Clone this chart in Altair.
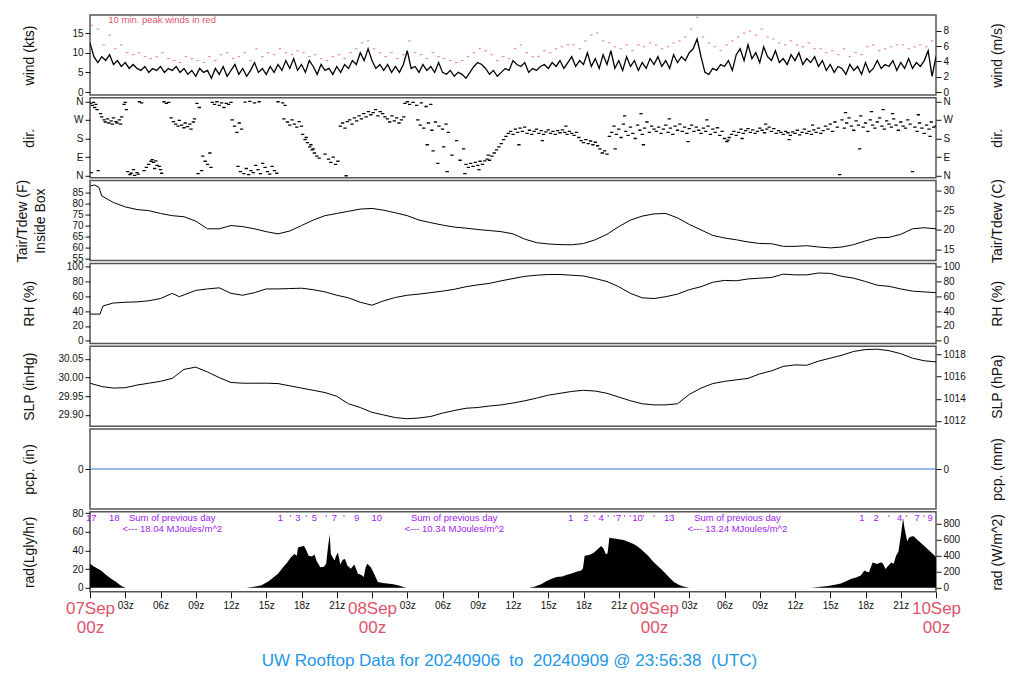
import altair as alt
import pandas as pd

FONT = "Liberation Sans"
RED = "#DF536B"
BLUE = "#2297E6"
PURPLE = "#A020F0"
PCP_BLUE = "#2a7fd4"
INK = "#111111"

W, H = 846, 80
X_DOMAIN = [0, 72]

# ---------------- data (hours after 07Sep 00z) ----------------
WIND_STEP_H = 1.0 / 3.0          # wind sampled every 20 min
wind_kts = [
    12.5, 9, 7.5, 9, 8, 9.5, 7, 8, 6.5, 7.5, 6, 7, 6, 5.5, 6.5, 5, 6, 5.5,
    6.5, 5, 6, 5.5, 6.5, 5, 6, 4.5, 5.5, 4, 6, 5, 5.5, 3.5, 6, 4.5, 6.5, 4,
    5.5, 7, 4.5, 6, 4, 5.5, 7.5, 5, 6, 4.5, 6.5, 5, 7, 5.5, 8, 6, 8.5, 5.5,
    7, 5, 8, 6.5, 4.5, 7, 5.5, 6, 4.5, 6.5, 5, 7, 6, 8, 7, 10, 8, 11,
    8, 6, 7, 5.5, 7, 5, 6.5, 5, 7, 10.5, 6, 6.5, 5, 7, 5.5, 6.5, 5, 7.5,
    5, 4.5, 5.5, 4, 5, 4.5, 3.5, 5, 6.5, 7.5, 7, 6, 4.5, 5.5, 4, 5, 6, 5.5,
    8, 7, 6.5, 7.5, 5, 6, 5.5, 6.5, 7, 6, 7.5, 6.5, 8, 6, 7.5, 9, 6.5, 8,
    7, 10, 6.5, 8.5, 6, 9.5, 7, 10.5, 6, 8, 5.5, 9, 6.5, 8, 5.5, 7.5, 6, 8.5,
    7, 9, 6.5, 8, 6, 9.5, 7.5, 9, 8, 10, 11, 13.5, 9, 5, 4.5, 6, 5.5, 7,
    6.5, 8, 5.5, 9.5, 11, 8, 12, 8.5, 10, 7.5, 11.5, 9, 8, 10.5, 7.5, 8.5, 7, 9.5,
    8, 10, 7, 8.5, 7.5, 9, 6.5, 8, 5.5, 7, 5, 6.5, 6, 4.5, 7, 5.5, 6.5, 4.5,
    7.5, 5, 6, 8, 6, 7, 6.5, 8, 5.5, 7.5, 6, 8.5, 6, 7.5, 6.5, 8, 10.5, 4,
    9,
]
PEAK_OFFSETS = [0.17, 0.67]      # two 10-min peaks plotted per hour
peak_kts = [
    17, 16, 12, 14.5, 11, 12, 10, 9.5, 10, 9, 8.5, 9, 10, 8.5, 8, 7.5,
    9, 8.5, 8, 7.5, 9, 8, 9.5, 10, 8.5, 9, 10, 8, 11, 9, 10, 9.5,
    11, 10, 9.5, 10.5, 10, 9, 9.5, 8.5, 8, 9, 9.5, 8.5, 10, 11, 12.5, 13,
    11, 10, 9, 10, 8.5, 9.5, 13, 10, 9.5, 8.5, 10, 9, 8.5, 8, 7.5, 8,
    9, 10, 11, 10.5, 9.5, 8, 9, 8.5, 11, 12, 10, 9, 9, 10.5, 10, 11,
    11.5, 12, 12, 11, 13, 14.5, 15, 13, 12.5, 11.5, 11, 12, 10.5, 12, 11.5, 12.5,
    12, 11, 11.5, 12.5, 13, 14, 16, 19, 14, 12.5, 11.5, 10.5, 12, 13, 14, 15,
    15.5, 14.5, 16, 14, 13.5, 12.5, 12, 13, 12, 11.5, 12.5, 11, 11, 10, 10.5, 9.5,
    11, 9, 10, 9.5, 11.5, 12, 10.5, 11, 11.5, 12, 12, 11, 11.5, 12, 11.5, 13,
]
peak_note = [(1.55, 18.4, "10 min. peak winds in red")]

# wind direction dashes: (hour, degrees)
dir_obs = [
    (0.05, 350), (0.2, 340), (0.3, 355), (0.4, 330), (0.5, 345), (0.6, 320), (0.1, 15), (0.7, 25),
    (0.9, 300), (1.0, 285), (1.2, 270), (1.3, 260), (1.5, 275), (1.6, 255), (1.8, 265), (1.9, 250),
    (2.0, 280), (2.2, 262), (2.3, 255), (2.5, 270), (2.6, 250), (2.7, 285), (2.9, 345), (3.1, 320),
    (3.0, 355), (3.2, 20), (3.4, 5), (3.5, 12), (3.7, 30), (3.8, 2), (4.0, 15), (4.1, 8),
    (4.2, 358), (4.4, 352), (4.6, 25), (4.8, 40), (5.0, 55), (5.2, 70), (5.3, 78), (5.4, 65),
    (5.6, 72), (5.7, 50), (5.9, 45), (6.0, 30), (6.1, 12), (5.5, 35), (6.3, 358), (6.5, 350),
    (6.7, 355), (6.9, 280), (7.1, 262), (7.3, 250), (7.5, 240), (7.6, 268), (7.8, 245), (8.0, 232),
    (8.1, 255), (8.3, 238), (8.5, 250), (8.6, 225), (8.8, 260), (8.9, 275), (9.1, 350), (9.3, 330),
    (9.2, 10), (9.5, 25), (9.6, 95), (9.8, 70), (10.0, 55), (10.2, 110), (10.3, 40), (10.4, 355),
    (10.6, 345), (10.8, 358), (11.0, 340), (11.2, 352), (11.4, 330), (11.6, 350), (11.8, 345), (12.0, 355),
    (12.1, 270), (12.3, 240), (12.5, 210), (12.7, 255), (12.9, 225), (12.6, 45), (12.8, 20), (13.1, 10),
    (13.3, 35), (13.5, 5), (13.7, 25), (13.9, 15), (14.1, 50), (14.3, 30), (14.5, 10), (14.7, 60),
    (14.9, 40), (15.1, 20), (15.3, 8), (15.5, 45), (15.7, 25), (15.9, 12), (13.2, 356), (13.6, 360),
    (14.0, 352), (14.4, 358), (16.0, 358), (16.4, 352), (16.6, 340), (16.5, 275), (16.8, 260), (17.0, 245),
    (17.2, 270), (17.4, 250), (17.6, 235), (17.8, 262), (18.0, 240), (18.1, 200), (18.3, 175), (18.5, 160),
    (18.7, 140), (18.9, 125), (19.1, 110), (19.3, 95), (19.5, 85), (18.4, 185), (18.8, 150), (19.0, 130),
    (20.0, 105), (20.3, 80), (20.5, 65), (20.7, 90), (20.9, 55), (21.1, 70), (21.3, 240), (21.5, 255),
    (21.7, 230), (21.8, 0), (21.9, 262), (22.1, 270), (22.3, 250), (22.5, 280), (22.7, 265), (22.9, 290),
    (23.1, 275), (23.3, 300), (23.5, 285), (23.7, 310), (23.9, 295), (24.1, 305), (24.3, 320), (24.5, 290),
    (24.7, 310), (24.9, 300), (25.1, 285), (25.3, 275), (25.5, 260), (25.7, 290), (25.9, 265), (26.1, 280),
    (26.3, 255), (26.5, 270), (26.7, 285), (26.8, 350), (27.0, 358), (27.2, 345), (27.5, 355), (27.8, 340),
    (28.2, 352), (28.6, 335), (29.0, 345), (27.9, 270), (28.1, 245), (28.4, 230), (28.8, 255), (29.1, 220),
    (29.4, 260), (29.7, 240), (30.0, 225), (30.3, 250), (30.5, 210), (28.7, 150), (29.2, 120), (29.6, 60),
    (30.1, 140), (30.4, 20), (30.8, 100), (31.2, 170), (31.5, 75), (31.8, 130), (31.9, 10), (32.0, 55),
    (32.2, 40), (32.4, 60), (32.6, 45), (32.8, 65), (33.0, 50), (33.2, 70), (33.4, 55), (33.6, 72),
    (33.8, 80), (34.0, 75), (34.2, 95), (34.4, 110), (34.6, 125), (34.8, 140), (35.0, 155), (35.2, 175),
    (35.4, 190), (33.1, 30), (33.9, 100), (35.6, 205), (35.8, 215), (36.0, 200), (36.2, 225), (36.4, 210),
    (36.6, 230), (36.8, 215), (37.0, 235), (37.2, 205), (37.4, 220), (37.6, 200), (37.8, 215), (38.0, 225),
    (38.2, 205), (38.4, 218), (38.6, 200), (38.8, 212), (39.0, 222), (39.2, 205), (39.4, 215), (39.6, 200),
    (39.8, 218), (40.0, 208), (40.2, 222), (40.4, 210), (40.6, 200), (40.8, 215), (41.0, 205), (41.2, 195),
    (41.4, 210), (36.5, 150), (38.5, 170), (40.5, 240), (41.6, 185), (41.8, 170), (42.0, 160), (42.2, 175),
    (42.4, 155), (42.6, 168), (42.8, 150), (43.0, 162), (43.2, 145), (43.4, 130), (43.6, 110), (43.8, 120),
    (44.0, 105), (44.2, 190), (44.4, 210), (44.6, 240), (44.8, 200), (45.0, 225), (45.2, 185), (45.4, 250),
    (45.6, 215), (45.8, 195), (46.0, 235), (46.2, 205), (46.4, 180), (46.6, 245), (46.8, 220), (47.0, 200),
    (47.2, 230), (47.4, 260), (47.6, 210), (47.8, 240), (48.0, 225), (45.5, 290), (46.9, 300), (44.7, 130),
    (47.1, 150), (48.2, 215), (48.4, 235), (48.6, 205), (48.8, 225), (49.0, 245), (49.2, 210), (49.4, 230),
    (49.6, 200), (49.8, 240), (50.0, 220), (50.2, 250), (50.4, 215), (50.6, 235), (50.8, 205), (51.0, 228),
    (51.2, 245), (51.4, 215), (51.6, 235), (51.8, 220), (52.0, 205), (52.2, 230), (52.4, 215), (52.6, 240),
    (52.8, 200), (53.0, 225), (53.2, 210), (53.4, 232), (53.6, 195), (53.8, 215), (49.3, 275), (50.9, 165),
    (52.5, 270), (54.0, 180), (54.2, 165), (54.3, 172), (54.4, 185), (54.6, 200), (54.8, 215), (55.0, 195),
    (55.2, 210), (55.4, 225), (55.6, 205), (55.8, 218), (56.0, 228), (56.2, 210), (56.4, 222), (56.6, 205),
    (56.8, 215), (57.0, 230), (57.2, 220), (57.4, 208), (57.6, 225), (57.8, 235), (58.0, 215), (58.2, 228),
    (58.4, 205), (58.6, 218), (58.8, 210), (59.0, 200), (59.2, 215), (59.4, 208), (59.6, 195), (59.8, 212),
    (60.0, 205), (60.2, 220), (60.4, 198), (60.6, 210), (60.8, 225), (61.0, 205), (61.2, 215), (61.4, 200),
    (61.6, 222), (61.8, 210), (62.0, 230), (62.2, 205), (62.4, 218), (62.6, 240), (62.8, 225), (63.0, 250),
    (55.5, 180), (57.5, 250), (59.5, 175), (61.5, 245), (63.2, 215), (63.4, 260), (63.6, 235), (63.8, 5),
    (64.0, 270), (64.2, 230), (64.4, 255), (64.6, 280), (64.8, 240), (65.0, 220), (65.2, 265), (65.4, 245),
    (65.5, 130), (65.6, 290), (65.8, 235), (66.0, 255), (66.2, 215), (66.4, 270), (66.6, 245), (66.8, 230),
    (67.0, 260), (67.2, 280), (67.4, 240), (67.6, 225), (67.8, 265), (68.0, 250), (68.2, 235), (68.4, 275),
    (68.6, 245), (68.8, 220), (69.0, 260), (69.2, 240), (69.4, 230), (69.6, 270), (69.8, 250), (70.0, 20),
    (70.2, 235), (70.4, 215), (70.6, 255), (70.8, 230), (71.0, 205), (71.2, 245), (71.4, 225), (71.6, 260),
    (71.8, 235), (72.0, 240), (64.3, 305), (66.5, 310), (68.3, 300), (70.5, 295), (71.5, 190), (67.5, 320),
]

# inside-box air temperature (F): (hour, value)
temp_obs = [
    (0, 88), (0.4, 88.5), (0.75, 87.5), (1, 83.5), (2, 80.5), (3, 78.5), (4, 77.3), (5, 76.8),
    (6, 75.5), (7, 74.5), (8, 74), (9, 72), (10, 68.5), (11, 68.5), (12, 70), (13, 69.5),
    (14, 68.5), (15, 67.2), (16, 66.2), (17, 67.5), (18, 70), (19, 72.5), (20, 74.5), (21, 75.5),
    (22, 76.5), (23, 77.5), (24, 77.8), (25, 77), (26, 75.8), (27, 74.5), (28, 72.5), (29, 71.3),
    (30, 70.2), (31, 69.3), (32, 68.8), (33, 68.2), (34, 67.7), (35, 67.2), (36, 66.2), (37, 63.8),
    (38, 62.2), (39, 61.6), (40, 61.3), (41, 61.2), (42, 61.8), (43, 63.5), (44, 66), (45, 69.5),
    (46, 72.5), (47, 74.3), (48, 75.3), (49, 75.5), (50, 73.5), (51, 70.5), (52, 68), (53, 65.5),
    (54, 64.3), (55, 63.5), (56, 62.5), (57, 61.8), (58, 61.7), (59, 60.5), (60, 60.5), (61, 60.8),
    (62, 60.2), (63, 59.8), (64, 60.2), (65, 61.3), (66, 63), (67, 64.4), (68, 64.6), (69, 66),
    (70, 68.5), (71, 69), (72, 68.5),
]

# relative humidity (%)
rh_obs = [
    (0, 36), (0.85, 36), (1.1, 47), (2, 51), (3, 52), (4, 52.5), (5, 54), (6, 57), (7, 64),
    (7.6, 59.5), (8, 62), (9, 68), (10, 70), (11, 71.5), (12, 64), (13, 61.5), (14, 65), (15, 70),
    (16, 70), (17, 70.5), (18, 71), (19, 69), (20, 66), (21, 61.5), (22, 58), (23, 52), (24, 48),
    (25, 54), (26, 58.5), (27, 61.5), (28, 63), (29, 65), (30, 67), (31, 69.5), (32, 73), (33, 75.5),
    (34, 77.5), (35, 81), (36, 84), (37, 87), (38, 88.5), (39, 89.5), (40, 89.5), (41, 88.5), (42, 87.5),
    (43, 84), (44, 80), (45, 73), (46, 64), (47, 58), (48, 57), (49, 59.5), (50, 63), (51, 69),
    (52, 73), (53, 79), (54, 81.5), (55, 81), (56, 83.5), (57, 84.5), (58, 85.5), (59, 90), (60, 89),
    (61, 89), (62, 91.5), (63, 91), (64, 87), (65, 84.5), (66, 80), (67, 75), (68, 73.5), (69, 70),
    (70, 67), (71, 66), (72, 65),
]

# sea-level pressure (inHg), hourly from 0 to 72
slp_inhg = [
    29.985, 29.976, 29.972, 29.973, 29.980, 29.985, 29.990, 29.998, 30.022, 30.028,
    30.015, 30.000, 29.987, 29.985, 29.985, 29.985, 29.984, 29.978, 29.972, 29.966,
    29.960, 29.950, 29.930, 29.920, 29.907, 29.900, 29.893, 29.890, 29.892, 29.896,
    29.905, 29.912, 29.918, 29.920, 29.924, 29.927, 29.932, 29.938, 29.945, 29.953,
    29.958, 29.963, 29.966, 29.964, 29.958, 29.948, 29.938, 29.930, 29.927, 29.927,
    29.930, 29.955, 29.972, 29.984, 29.990, 29.994, 29.998, 30.010, 30.018, 30.030,
    30.034, 30.033, 30.044, 30.052, 30.060, 30.070, 30.075, 30.076, 30.072, 30.064,
    30.052, 30.045, 30.042,
]

# precipitation (in)
pcp_obs = [(0, 0.0), (72, 0.0)]

# solar radiation (W/m^2)
rad_obs = [
    (0, 300), (0.3, 270), (0.6, 245), (0.94, 217), (1.3, 170), (1.8, 115), (2.2, 75), (2.5, 41),
    (2.8, 15), (3.06, 0), (13.3, 0), (13.8, 10), (14.2, 20), (14.6, 33), (15.2, 82), (15.6, 130),
    (16.0, 176), (16.4, 250), (16.8, 319), (17.1, 380), (17.4, 420), (17.6, 400), (17.7, 503), (18.0, 515),
    (18.2, 523), (18.4, 470), (18.6, 401), (18.9, 390), (19.1, 415), (19.3, 330), (19.6, 258), (19.9, 262),
    (20.1, 300), (20.25, 503), (20.4, 667), (20.5, 420), (20.8, 340), (20.95, 400), (21.1, 441), (21.3, 290),
    (21.5, 350), (21.7, 360), (21.9, 278), (22.2, 237), (22.5, 290), (22.8, 176), (23.1, 160), (23.3, 135),
    (23.45, 250), (23.6, 299), (23.9, 258), (24.1, 200), (24.5, 74), (24.9, 62), (25.3, 53), (25.8, 45),
    (26.2, 33), (26.6, 15), (26.9, 0), (37.4, 0), (37.8, 15), (38.4, 45), (38.9, 90), (39.3, 114),
    (39.7, 134), (40.2, 140), (40.6, 163), (41.0, 180), (41.4, 200), (41.8, 215), (41.95, 240), (42.1, 398),
    (42.5, 410), (42.9, 440), (43.2, 480), (43.5, 520), (43.7, 490), (43.9, 419), (44.05, 430), (44.2, 622),
    (44.6, 615), (45.0, 605), (45.4, 595), (45.8, 575), (46.3, 541), (46.6, 515), (46.9, 480), (47.2, 440),
    (47.5, 398), (47.9, 330), (48.3, 275), (48.6, 236), (49.0, 175), (49.3, 130), (49.7, 73), (50.1, 40),
    (50.5, 18), (51.0, 0), (61.4, 0), (62.0, 12), (62.8, 24), (63.4, 38), (63.9, 53), (64.4, 85),
    (64.8, 114), (65.2, 130), (65.6, 154), (65.9, 215), (66.1, 200), (66.3, 195), (66.6, 317), (67.0, 297),
    (67.3, 318), (67.5, 300), (67.7, 236), (67.9, 270), (68.2, 317), (68.4, 300), (68.6, 398), (68.8, 450),
    (69.0, 642), (69.2, 866), (69.3, 760), (69.4, 683), (69.55, 580), (69.7, 622), (69.9, 640), (70.1, 642),
    (70.4, 600), (70.7, 561), (71.0, 520), (71.3, 480), (71.6, 440), (71.9, 398), (72.0, 380),
]

# purple annotations in the radiation panel: (hour, W/m^2 level, text)
rad_notes = [
    (0.1, 872, "17"), (2.07, 872, "18"), (7.0, 872, "Sum of previous day"),
    (7.0, 737, "<--- 18.04 MJoules/m^2"),
    (16.2, 872, "1"), (17.05, 872, "'"), (17.7, 872, "3"), (18.4, 872, "'"), (19.1, 872, "5"),
    (20.1, 872, "'"), (20.8, 872, "7"), (21.6, 872, "'"), (22.7, 872, "9"), (24.4, 872, "10"),
    (31.0, 872, "Sum of previous day"), (31.0, 737, "<--- 10.34 MJoules/m^2"),
    (40.9, 872, "1"), (42.2, 872, "2"), (42.9, 872, "'"), (43.5, 872, "4"), (44.1, 872, "'"),
    (44.6, 872, "'"), (45.0, 872, "7"), (45.5, 872, "'"), (46.0, 872, "'"), (46.6, 872, "10"),
    (47.1, 872, "'"), (48.0, 872, "'"), (49.3, 872, "13"),
    (55.1, 872, "Sum of previous day"), (55.1, 737, "<--- 13.24 MJoules/m^2"),
    (65.7, 872, "1"), (66.9, 872, "2"), (68.0, 872, "'"), (68.9, 872, "4"), (69.5, 872, "'"),
    (70.4, 872, "7"), (71.0, 872, "'"), (71.5, 872, "9"),
]

day_labels = ["07Sep", "08Sep", "09Sep", "10Sep"]
x_tick_hours = list(range(0, 73, 3))
title_text = "UW Rooftop Data for 20240906\u00a0 to\u00a0 20240909 @ 23:56:38\u00a0 (UTC)"

# ---------------- axis domains / unit conversions ----------------
KTS_TO_MS = 0.514444
INHG_TO_HPA = 33.8639
IN_TO_MM = 25.4
LGLY_TO_WM2 = 11.622

WIND_DOM = [-0.76, 19.6]
DIR_DOM = [-10, 377]
TEMP_DOM = [54.0, 90.5]
RH_DOM = [-3.6, 104.5]
SLP_DOM = [29.870, 30.084]
PCP_DOM = [-0.1, 0.1]
RAD_LGLY_DOM = [-4.2, 81.4]


def conv(dom, f):
    return [f(v) for v in dom]


def yscale(d):
    return alt.Scale(domain=d, nice=False, zero=False)


def y_axis(orient, title, values, tx, **kw):
    return alt.Axis(
        orient=orient, values=values, title=title, titleX=tx, titleAngle=270,
        titleBaseline="middle", titleAlign="center", titleFont=FONT, titleFontSize=14,
        titleFontWeight="normal", titleColor=INK, labelFont=FONT, labelFontSize=10,
        labelColor=INK, tickSize=5, tickColor=INK, tickWidth=1, domain=False,
        grid=False, labelPadding=2, **kw)


def left_axis(title, values, tx=-61, **kw):
    return y_axis("left", title, values, tx, **kw)


def right_axis(title, values, tx=61, **kw):
    return y_axis("right", title, values, tx, **kw)


day_expr = "[" + ",".join("'%s'" % d for d in day_labels) + "]"
x_label_expr = (
    "datum.value % 24 == 0 ? [" + day_expr + "[datum.value / 24], '00z'] : "
    "((datum.value % 24) < 10 ? '0' : '') + (datum.value % 24) + 'z'"
)
bottom_axis = alt.Axis(
    values=x_tick_hours, labelExpr=x_label_expr, title=None, grid=False, domain=False,
    tickSize=6, tickColor=INK, tickWidth=1, labelFont=FONT,
    labelFontSize={"condition": {"test": "datum.value % 24 == 0", "value": 17}, "value": 10},
    labelColor={"condition": {"test": "datum.value % 24 == 0", "value": RED}, "value": INK},
    labelBaseline="top", labelPadding=3, labelLineHeight=19, labelOverlap=False,
    labelFlush=False, labelBound=False,
)


def xenc(axis=None):
    return alt.X("h:Q", scale=alt.Scale(domain=X_DOMAIN, nice=False, zero=False), axis=axis)


def dummy(dom, axis, xaxis=None):
    df = pd.DataFrame({"h": X_DOMAIN, "v": dom})
    return alt.Chart(df).mark_point(opacity=0).encode(
        x=xenc(xaxis), y=alt.Y("v:Q", scale=yscale(dom), axis=axis))


def panel(main, right):
    return alt.layer(main, right).resolve_scale(y="independent").properties(width=W, height=H)


# ---- wind ----
wind_df = pd.DataFrame({"h": [i * WIND_STEP_H for i in range(len(wind_kts))], "v": wind_kts})
peak_df = pd.DataFrame({"h": [hr + o for hr in range(72) for o in PEAK_OFFSETS], "v": peak_kts})
wnote_df = pd.DataFrame(peak_note, columns=["h", "v", "t"])
ax_w = left_axis("wind (kts)", [0, 5, 10, 15])
yw = alt.Y("v:Q", scale=yscale(WIND_DOM), axis=ax_w)
wind_main = alt.layer(
    alt.Chart(wind_df).mark_line(color="black", strokeWidth=1.3, clip=True).encode(x=xenc(), y=yw),
    alt.Chart(peak_df).mark_point(shape="M-1,0L1,0", size=6, filled=False, strokeWidth=0.9,
                                  color="#E46A82", opacity=1, clip=True).encode(x=xenc(), y=yw),
    alt.Chart(wnote_df).mark_text(align="left", baseline="middle", font=FONT, fontSize=9.5,
                                  color=RED).encode(x=xenc(), y=yw, text="t:N"),
)
p_wind = panel(wind_main, dummy(conv(WIND_DOM, lambda v: v * KTS_TO_MS),
                                right_axis("wind (m/s)", [0, 2, 4, 6, 8])))

# ---- direction ----
dir_df = pd.DataFrame(dir_obs, columns=["h", "v"])
dir_expr = "datum.value == 90 ? 'E' : datum.value == 180 ? 'S' : datum.value == 270 ? 'W' : 'N'"
dir_main = alt.Chart(dir_df).mark_point(shape="M-1,0L1,0", size=11, filled=False, strokeWidth=1.3,
                                        color="black", opacity=1, clip=True).encode(
    x=xenc(), y=alt.Y("v:Q", scale=yscale(DIR_DOM),
                      axis=left_axis("dir.", [0, 90, 180, 270, 360], labelExpr=dir_expr)))
p_dir = panel(dir_main, dummy(DIR_DOM, right_axis("dir.", [0, 90, 180, 270, 360], labelExpr=dir_expr)))

# ---- temperature ----
temp_df = pd.DataFrame(temp_obs, columns=["h", "v"])
temp_main = alt.Chart(temp_df).mark_line(color="black", strokeWidth=1, clip=True).encode(
    x=xenc(), y=alt.Y("v:Q", scale=yscale(TEMP_DOM),
                      axis=left_axis(["Tair/Tdew (F)", "Inside Box"], [55, 60, 65, 70, 75, 80, 85],
                                     tx=-68, titleLineHeight=18)))
p_temp = panel(temp_main, dummy(conv(TEMP_DOM, lambda f: (f - 32) * 5 / 9),
                                right_axis("Tair/Tdew (C)", [15, 20, 25, 30])))

# ---- RH ----
rh_df = pd.DataFrame(rh_obs, columns=["h", "v"])
rh_main = alt.Chart(rh_df).mark_line(color="black", strokeWidth=1, clip=True).encode(
    x=xenc(), y=alt.Y("v:Q", scale=yscale(RH_DOM), axis=left_axis("RH (%)", [0, 20, 40, 60, 80, 100])))
p_rh = panel(rh_main, dummy(RH_DOM, right_axis("RH (%)", [0, 20, 40, 60, 80, 100])))

# ---- SLP ----
slp_df = pd.DataFrame({"h": list(range(len(slp_inhg))), "v": slp_inhg})
slp_main = alt.Chart(slp_df).mark_line(color="black", strokeWidth=1, clip=True).encode(
    x=xenc(), y=alt.Y("v:Q", scale=yscale(SLP_DOM),
                      axis=left_axis("SLP (inHg)", [29.90, 29.95, 30.00, 30.05], format=".2f")))
p_slp = panel(slp_main, dummy(conv(SLP_DOM, lambda v: v * INHG_TO_HPA),
                              right_axis("SLP (hPa)", [1012, 1014, 1016, 1018], format="d")))

# ---- precipitation ----
pcp_df = pd.DataFrame(pcp_obs, columns=["h", "v"])
pcp_main = alt.Chart(pcp_df).mark_line(color=PCP_BLUE, strokeWidth=1.2).encode(
    x=xenc(), y=alt.Y("v:Q", scale=yscale(PCP_DOM), axis=left_axis("pcp. (in)", [0], format="d")))
p_pcp = panel(pcp_main, dummy(conv(PCP_DOM, lambda v: v * IN_TO_MM),
                              right_axis("pcp. (mm)", [0], format="d")))

# ---- radiation ----
RAD_W_DOM = conv(RAD_LGLY_DOM, lambda v: v * LGLY_TO_WM2)
rad_df = pd.DataFrame(rad_obs, columns=["h", "v"])
notes_df = pd.DataFrame(rad_notes, columns=["h", "v", "t"])
ax_rw = right_axis("rad (W/m^2)", [0, 200, 400, 600, 800])
yr = alt.Y("v:Q", scale=yscale(RAD_W_DOM), axis=ax_rw)
rad_main = alt.layer(
    alt.Chart(rad_df).mark_area(color="black", clip=True, interpolate="linear").encode(
        x=xenc(bottom_axis), y=yr),
    alt.Chart(notes_df).mark_text(align="center", baseline="middle", font=FONT, fontSize=9.5,
                                  color=PURPLE).encode(x=xenc(bottom_axis), y=yr, text="t:N"),
)
p_rad = alt.layer(
    rad_main,
    dummy(RAD_LGLY_DOM, left_axis("rad(Lgly/hr)", [0, 20, 40, 60, 80]), xaxis=bottom_axis),
).resolve_scale(y="independent").properties(width=W, height=H)

chart = alt.vconcat(
    p_wind, p_dir, p_temp, p_rh, p_slp, p_pcp, p_rad, spacing=2.8, bounds="flush"
).resolve_scale(x="independent", y="independent").properties(
    title=alt.TitleParams(text=title_text, orient="bottom", anchor="middle", font=FONT,
                          fontSize=17, fontWeight="normal", color=BLUE, offset=16),
    padding={"left": 6, "top": 3, "right": 5, "bottom": 5},
    background="white",
).configure_view(stroke="#555555", strokeWidth=1.5)

chart.save("out.html", embed_options={"renderer": "svg", "actions": False})
